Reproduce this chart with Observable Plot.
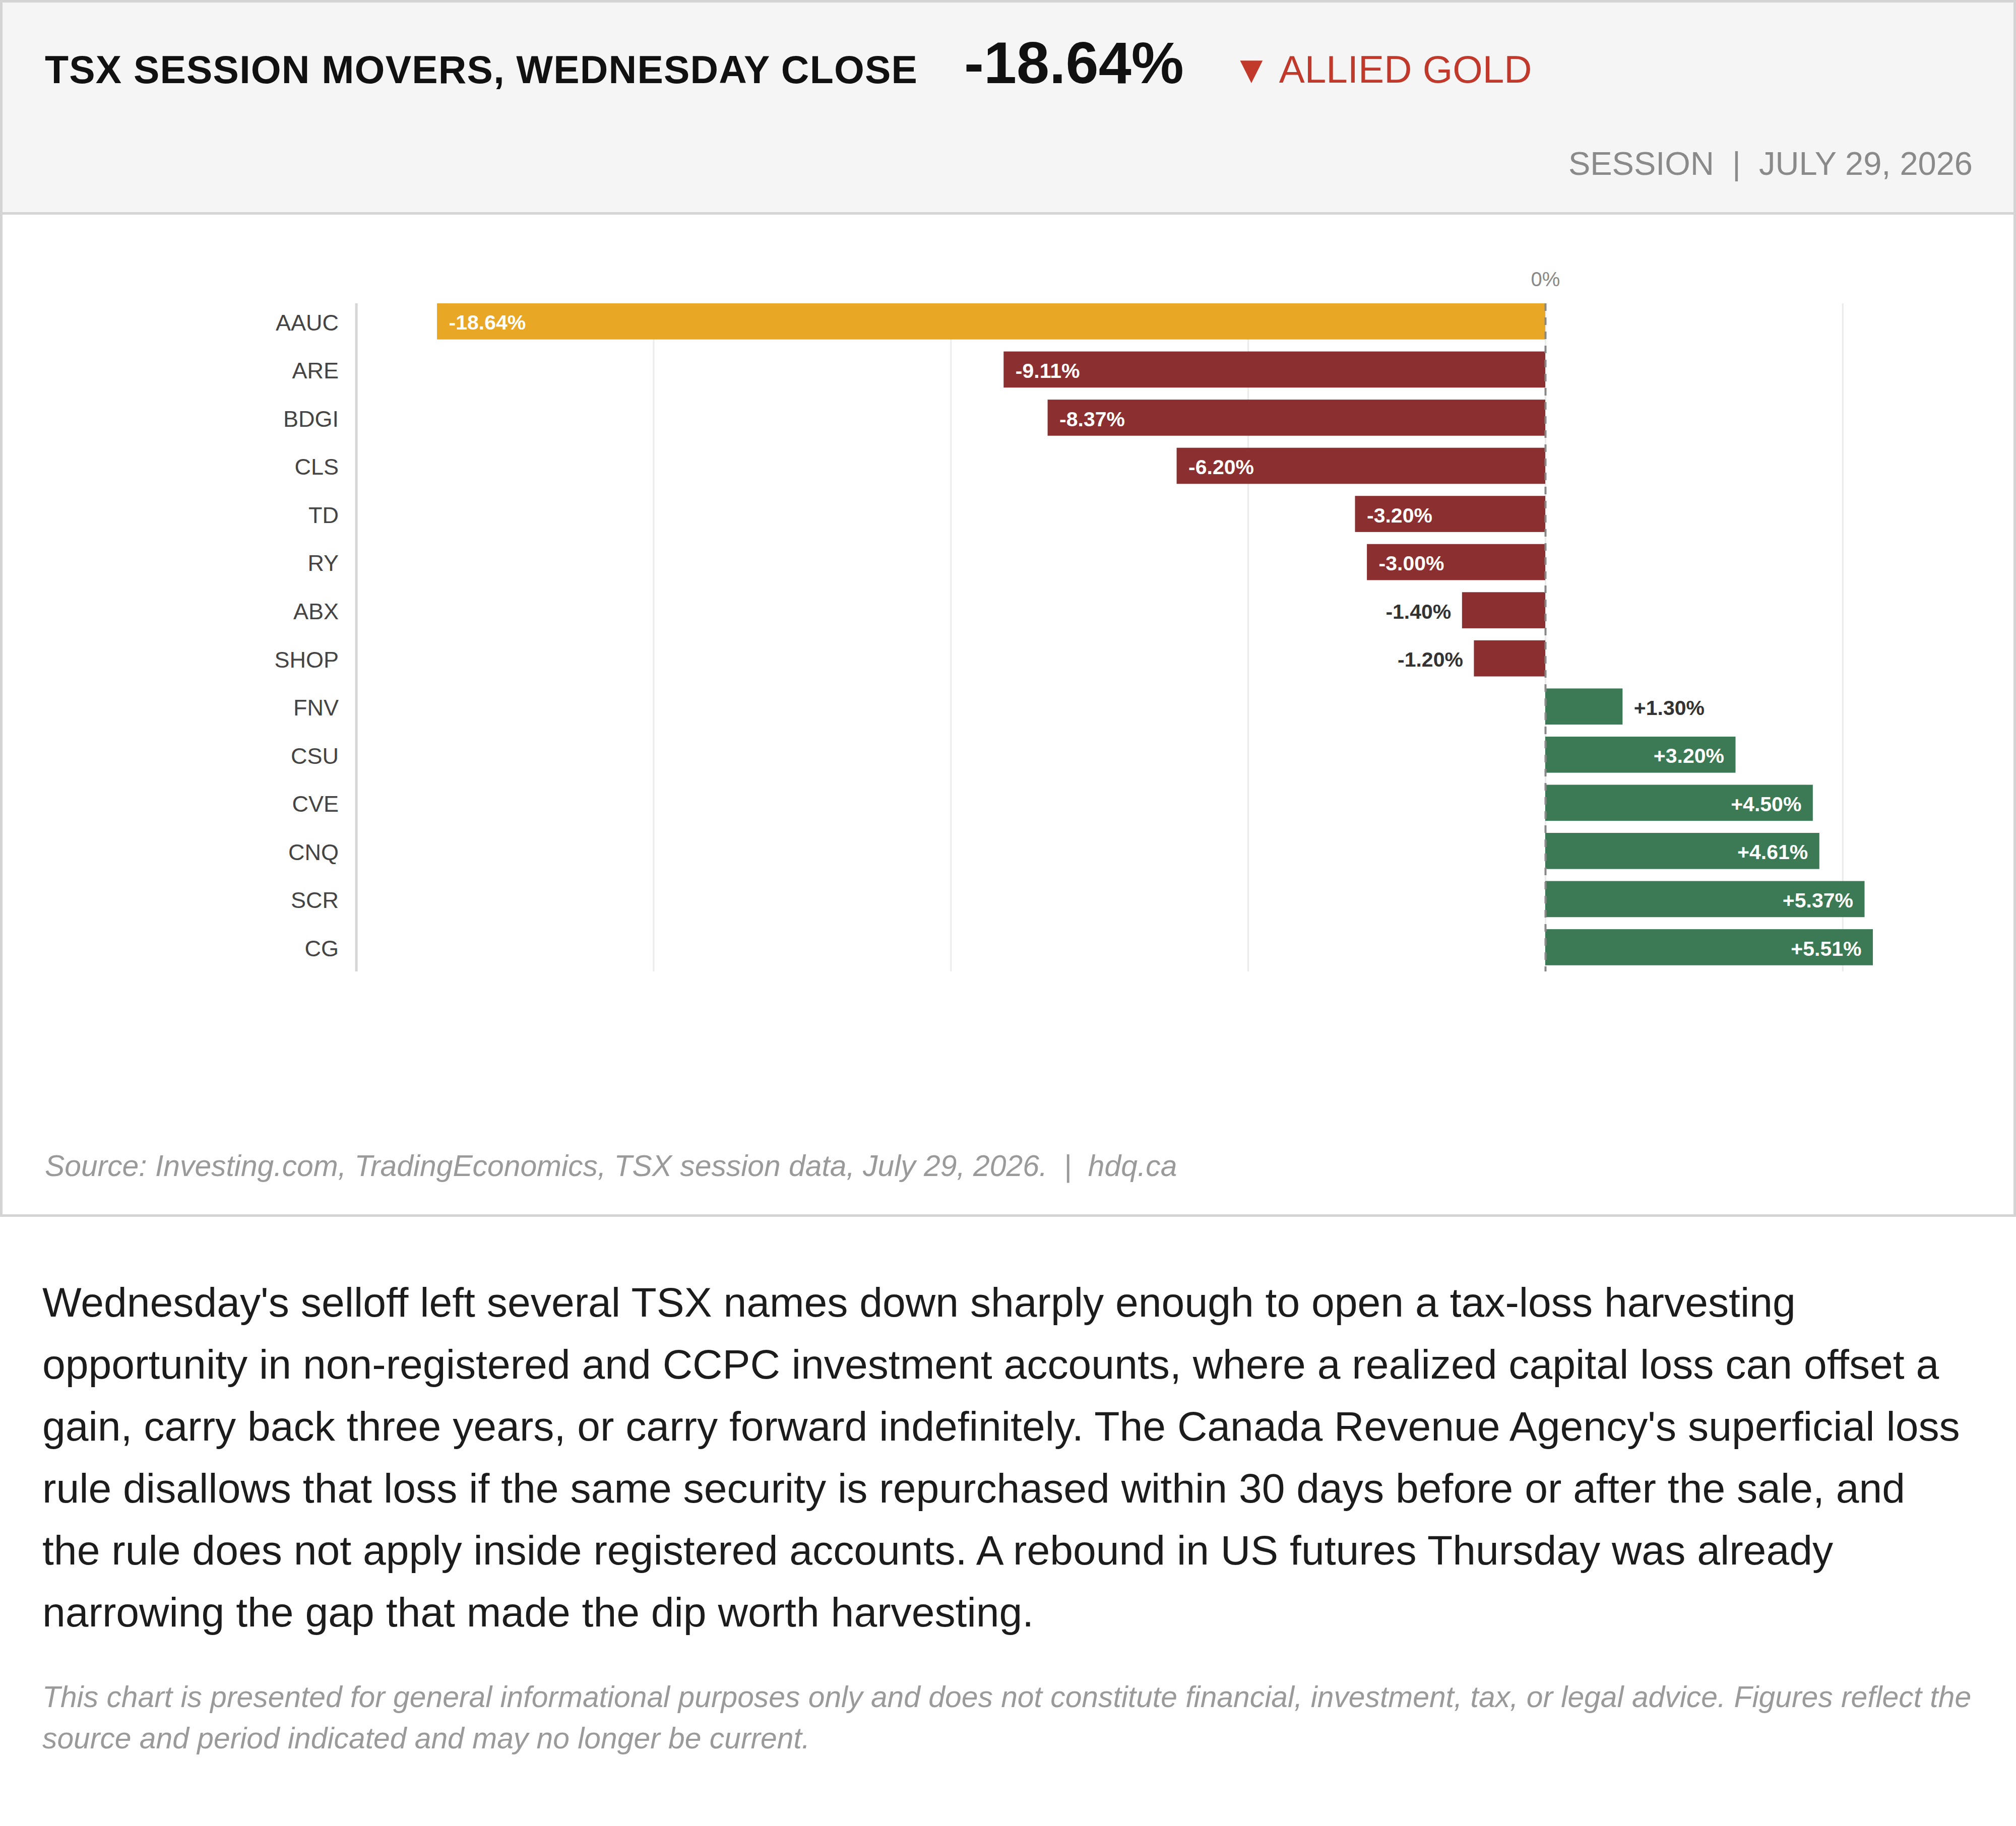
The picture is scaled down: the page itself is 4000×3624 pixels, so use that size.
<!DOCTYPE html>
<html>
<head>
<meta charset="utf-8">
<script src="https://cdn.jsdelivr.net/npm/d3@7"></script>
<script src="https://cdn.jsdelivr.net/npm/@observablehq/plot@0.6"></script>
<style>
html, body { margin: 0; padding: 0; background: #fff; }
body { width: 4000px; font-family: "Liberation Sans", Arial, Helvetica, sans-serif; }
.card { width: 4000px; box-sizing: border-box; border: 5px solid #d4d4d4; }
.header { position: relative; height: 416px; background: #f5f5f5; border-bottom: 5px solid #d4d4d4; }
.header span { position: absolute; line-height: 1; white-space: pre; }
#title { left: 84px; top: 95px; font-size: 77px; font-weight: bold; color: #111; letter-spacing: 1.2px; }
#big { left: 1908px; top: 61px; font-size: 117px; font-weight: bold; color: #111; }
#mover { left: 2440px; top: 95px; font-size: 76.5px; color: #c0392b; }
#session { right: 81px; top: 287px; font-size: 65px; color: #8a8a8a; }
.chartarea { position: relative; height: 1984px; background: #fff; }
#chart { position: absolute; left: 0; top: 0; }
#source { position: absolute; left: 84px; top: 1859px; font-size: 58.8px; line-height: 1; font-style: italic; color: #9a9a9a; white-space: pre; }
#body { margin: 108px 0 0 84px; font-size: 82.3px; line-height: 123px; color: #1c1c1c; white-space: nowrap; }
#disclaimer { margin: 66px 0 0 84px; font-size: 58.8px; line-height: 82px; font-style: italic; color: #9a9a9a; white-space: nowrap; }
</style>
</head>
<body>
<div class="card">
  <div class="header">
    <span id="title">TSX SESSION MOVERS, WEDNESDAY CLOSE</span>
    <span id="big">-18.64%</span>
    <span id="mover">▼ ALLIED GOLD</span>
    <span id="session">SESSION  |  JULY 29, 2026</span>
  </div>
  <div class="chartarea">
    <div id="chart"></div>
    <div id="source">Source: Investing.com, TradingEconomics, TSX session data, July 29, 2026.  |  hdq.ca</div>
  </div>
</div>
<div id="body">Wednesday's selloff left several TSX names down sharply enough to open a tax-loss harvesting<br>opportunity in non-registered and CCPC investment accounts, where a realized capital loss can offset a<br>gain, carry back three years, or carry forward indefinitely. The Canada Revenue Agency's superficial loss<br>rule disallows that loss if the same security is repurchased within 30 days before or after the sale, and<br>the rule does not apply inside registered accounts. A rebound in US futures Thursday was already<br>narrowing the gap that made the dip worth harvesting.</div>
<div id="disclaimer">This chart is presented for general informational purposes only and does not constitute financial, investment, tax, or legal advice. Figures reflect the<br>source and period indicated and may no longer be current.</div>
<script>
const tickers = ["AAUC", "ARE", "BDGI", "CLS", "TD", "RY", "ABX", "SHOP", "FNV", "CSU", "CVE", "CNQ", "SCR", "CG"];
const changes = [-18.64, -9.11, -8.37, -6.20, -3.20, -3.00, -1.40, -1.20, 1.30, 3.20, 4.50, 4.61, 5.37, 5.51];
const highlightTicker = "AAUC";
const gridTicks = [-15, -10, -5, 0, 5];
const frameTick = [-20];
const zeroTick = [0];
const xDomain = [-20, 6];
const insideThreshold = 3;

const colorHighlight = "#e8a826";
const colorLoss = "#8b2f31";
const colorGain = "#3b7a55";

const rows = tickers.map((t, i) => ({ticker: t, change: changes[i]}));
const fmt = v => (v > 0 ? "+" : "") + v.toFixed(2) + "%";
const fillFor = d => d.ticker === highlightTicker ? colorHighlight : (d.change < 0 ? colorLoss : colorGain);

const insideNeg = rows.filter(d => d.change < 0 && Math.abs(d.change) >= insideThreshold);
const insidePos = rows.filter(d => d.change > 0 && Math.abs(d.change) >= insideThreshold);
const outsideNeg = rows.filter(d => d.change < 0 && Math.abs(d.change) < insideThreshold);
const outsidePos = rows.filter(d => d.change > 0 && Math.abs(d.change) < insideThreshold);

const labelStyle = {fontWeight: "bold", fontSize: 41, dy: 3};

const chart = Plot.plot({
  width: 3990,
  height: 1700,
  marginLeft: 701.6,
  marginRight: 221.2,
  marginTop: 176,
  marginBottom: 198,
  style: {fontFamily: "'Liberation Sans', Arial, sans-serif", background: "transparent", color: "#444"},
  x: {domain: xDomain, label: null},
  y: {domain: tickers, paddingInner: 0.25, paddingOuter: 0.064, align: 0, round: false, label: null},
  marks: [
    Plot.ruleX(gridTicks, {stroke: "#ebebeb", strokeWidth: 3}),
    Plot.ruleX(frameTick, {stroke: "#d6d6d6", strokeWidth: 5}),
    Plot.barX(rows, {x1: 0, x2: "change", y: "ticker", fill: fillFor}),
    Plot.ruleX(zeroTick, {stroke: "#888", strokeWidth: 4, strokeDasharray: "15,13"}),
    Plot.axisY({tickSize: 0, tickPadding: 35, fontSize: 45, color: "#444", label: null, dy: 3}),
    Plot.axisX({anchor: "top", ticks: zeroTick, tickSize: 0, tickPadding: 35, fontSize: 40, color: "#888", label: null, tickFormat: d => d + "%"}),
    Plot.text(insideNeg, {x: "change", y: "ticker", text: d => fmt(d.change), textAnchor: "start", dx: 23, fill: "#fff", ...labelStyle}),
    Plot.text(insidePos, {x: "change", y: "ticker", text: d => fmt(d.change), textAnchor: "end", dx: -23, fill: "#fff", ...labelStyle}),
    Plot.text(outsideNeg, {x: "change", y: "ticker", text: d => fmt(d.change), textAnchor: "end", dx: -22, fill: "#333", ...labelStyle}),
    Plot.text(outsidePos, {x: "change", y: "ticker", text: d => fmt(d.change), textAnchor: "start", dx: 22, fill: "#333", ...labelStyle})
  ]
});
document.getElementById("chart").appendChild(chart);
</script>
</body>
</html>
